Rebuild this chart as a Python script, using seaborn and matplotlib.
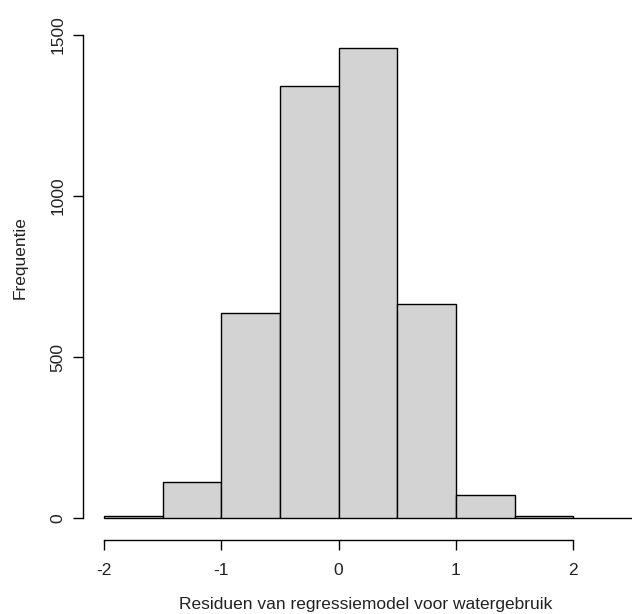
import matplotlib
matplotlib.use("Agg")
import matplotlib.pyplot as plt
import seaborn as sns
import numpy as np

# Data
bin_edges = [-2.0, -1.5, -1.0, -0.5, 0.0, 0.5, 1.0, 1.5, 2.0, 2.5]
counts = [6, 113, 636, 1342, 1459, 664, 73, 6, 0]
x_ticks = [-2, -1, 0, 1, 2]
y_ticks = [0, 500, 1000, 1500]
x_label = "Residuen van regressiemodel voor watergebruik"
y_label = "Frequentie"

sns.set_style("white")
plt.rcParams['font.family'] = ['Liberation Sans', 'DejaVu Sans']

W, H = 632, 614
fig = plt.figure(figsize=(W / 100, H / 100), dpi=100)
left_px, right_px, top_px, bottom_px = 83, 653, 29, 540
ax = fig.add_axes([left_px / W, 1 - bottom_px / H, (right_px - left_px) / W, (bottom_px - top_px) / H])

centers = [(bin_edges[i] + bin_edges[i + 1]) / 2 for i in range(len(counts))]
sns.histplot(x=centers, weights=counts, bins=bin_edges, ax=ax,
             color="#D3D3D3", edgecolor="black", linewidth=1.0, alpha=1.0)

ax.set_xlim(-2.18, 2.68)
ax.set_ylim(-67.3, 1518.4)

for s in ["top", "right"]:
    ax.spines[s].set_visible(False)
ax.spines["left"].set_bounds(0, 1500)
ax.spines["bottom"].set_bounds(-2, 2)
for s in ["left", "bottom"]:
    ax.spines[s].set_color("black")
    ax.spines[s].set_linewidth(1.0)

fs = 12.5
ax.set_xticks(x_ticks)
ax.set_xticklabels([str(t) for t in x_ticks])
ax.set_yticks(y_ticks)
ax.set_yticklabels([str(t) for t in y_ticks], rotation=90, va="center")
ax.tick_params(axis="both", direction="out", length=7.5, width=1, color="black",
               labelsize=fs, labelcolor="#222222", bottom=True, left=True)
ax.tick_params(axis="x", pad=9)
ax.tick_params(axis="y", pad=5)

ax.set_xlabel(x_label, fontsize=fs, color="#222222")
ax.set_ylabel(y_label, fontsize=fs, color="#222222")
ax.xaxis.set_label_coords((366 - left_px) / (right_px - left_px), -(604 - bottom_px) / (bottom_px - top_px))
ax.yaxis.set_label_coords((20 - left_px) / (right_px - left_px), (bottom_px - 258) / (bottom_px - top_px))
ax.xaxis.label.set_va("center")
ax.yaxis.label.set_va("center")
ax.grid(False)

fig.savefig("out.png", dpi=100)
